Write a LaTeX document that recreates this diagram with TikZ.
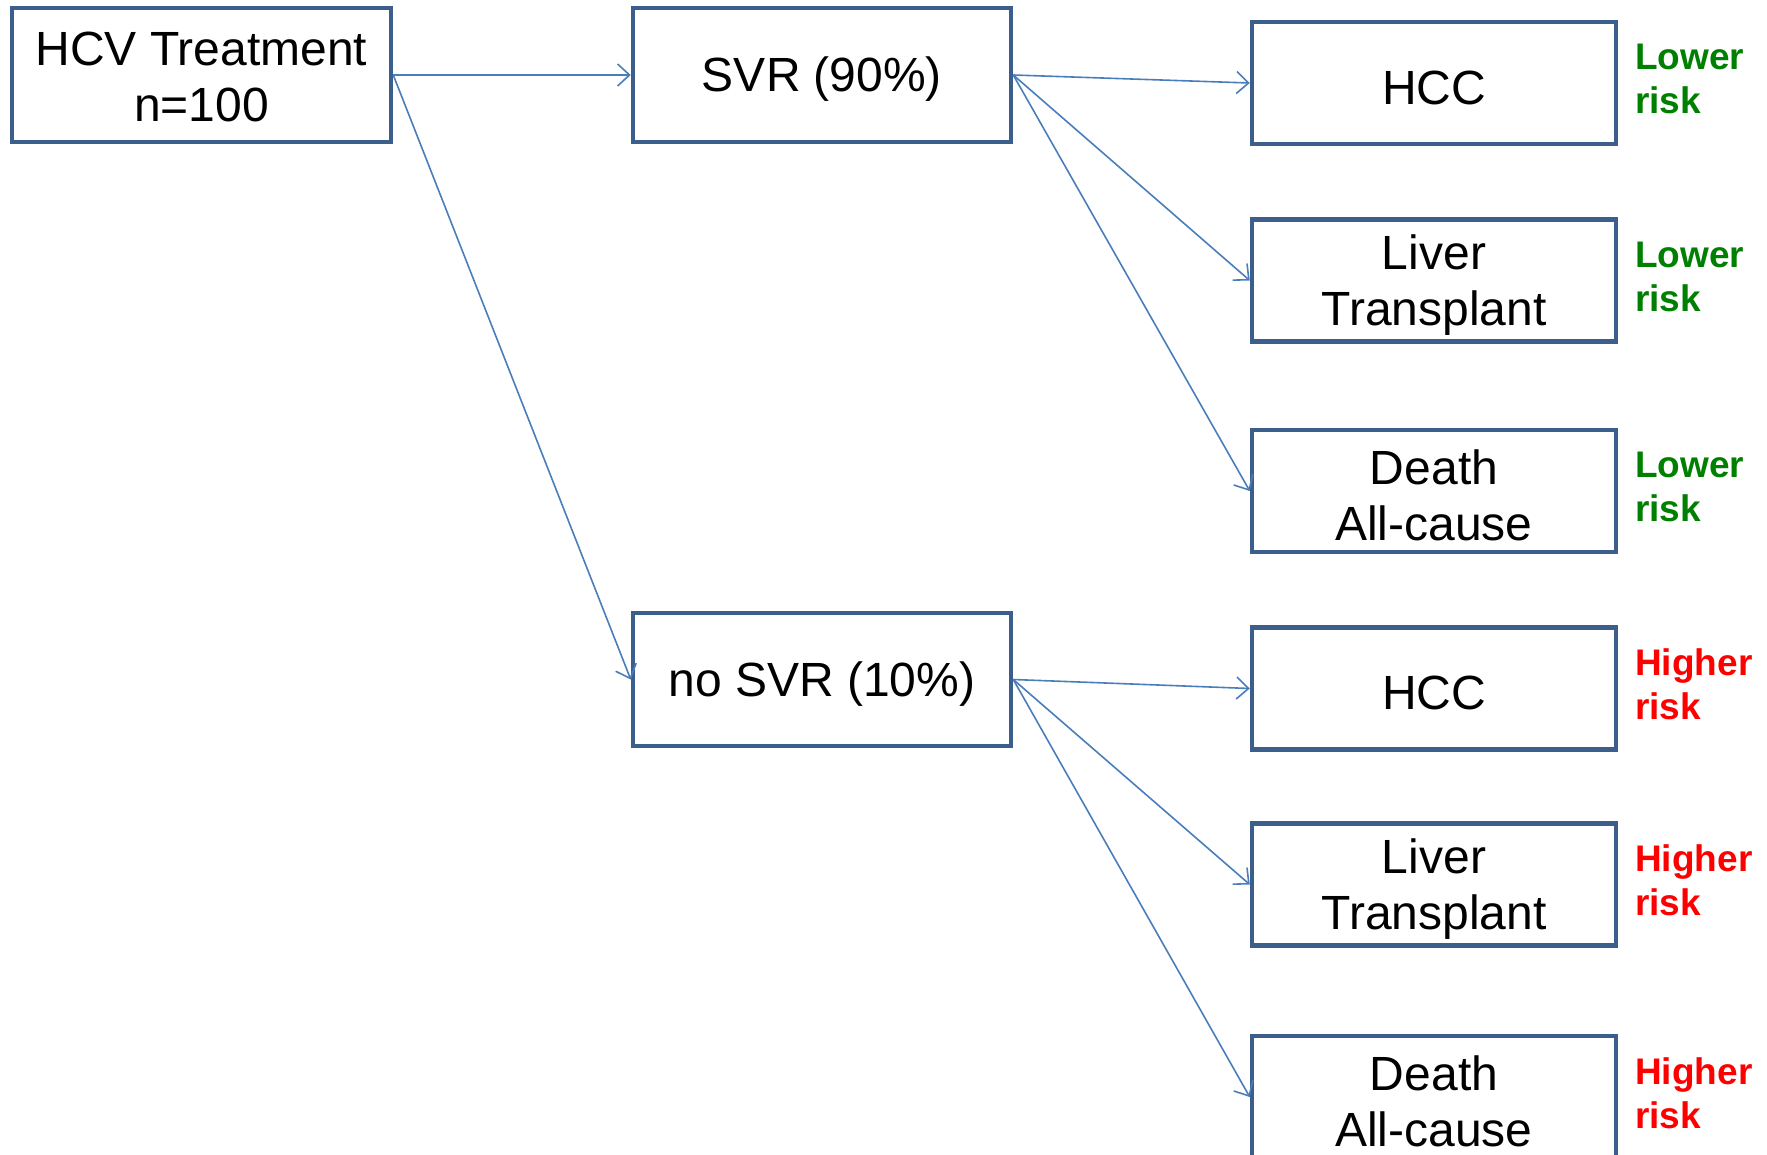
\documentclass[tikz,border=0pt]{standalone}
\usepackage{fontspec}
\setmainfont{Liberation Sans}
\usetikzlibrary{arrows.meta}
\definecolor{boxblue}{RGB}{59,94,140}
\definecolor{arrblue}{RGB}{74,126,187}
\definecolor{lowgreen}{RGB}{0,128,0}
\definecolor{highred}{RGB}{255,0,0}
\newcommand{\liftline}{\rule{0pt}{43pt}}
\begin{document}
\begin{tikzpicture}[x=1pt,y=-1pt,
  box/.style={draw=boxblue,line width=4.5pt,fill=white,align=center,inner sep=0pt,
    font=\fontsize{48}{56}\selectfont},
  midbox/.style={box,minimum width=378pt,minimum height=134pt},
  outbox/.style={box,minimum width=364pt,minimum height=122pt},
  conn/.style={draw=arrblue,line width=1.6pt,-{Straight Barb[length=12pt,width=22pt,line width=1.6pt]}},
  risk/.style={anchor=west,align=left,inner sep=0pt,font=\fontsize{37}{44}\selectfont\bfseries}
]
\useasboundingbox (0,0) rectangle (1767,1155);
\clip (0,0) rectangle (1767,1155);
\node[midbox,minimum width=379pt] (hcv) at (201.5,75) {\rule{0pt}{38pt}HCV Treatment\\n=100};
\node[midbox] (svr) at (822,75) {\liftline SVR (90\%)};
\node[midbox,minimum height=133pt] (nosvr) at (822,679.5) {\liftline no SVR (10\%)};
\node[outbox] (hcc1) at (1434,83) {\liftline HCC};
\node[outbox] (lt1) at (1434,280.5) {\liftline Liver\\Transplant};
\node[outbox] (d1) at (1434,491) {\liftline Death\\All-cause};
\node[outbox] (hcc2) at (1434,688.5) {\liftline HCC};
\node[outbox] (lt2) at (1434,884.5) {\liftline Liver\\Transplant};
\node[outbox] (d2) at (1434,1097) {\liftline Death\\All-cause};
\node[risk,text=lowgreen] (r1) at (1635,79) {Lower\\risk};
\node[risk,text=lowgreen] (r2) at (1635,276.5) {Lower\\risk};
\node[risk,text=lowgreen] (r3) at (1635,487) {Lower\\risk};
\node[risk,text=highred] (r4) at (1635,684.5) {Higher\\risk};
\node[risk,text=highred] (r5) at (1635,880.5) {Higher\\risk};
\node[risk,text=highred] (r6) at (1635,1093) {Higher\\risk};
\draw[conn] (hcv.east) -- (svr.west);
\draw[conn] (hcv.east) -- (nosvr.west);
\draw[conn] (svr.east) -- (hcc1.west);
\draw[conn] (svr.east) -- (lt1.west);
\draw[conn] (svr.east) -- (d1.west);
\draw[conn] (nosvr.east) -- (hcc2.west);
\draw[conn] (nosvr.east) -- (lt2.west);
\draw[conn] (nosvr.east) -- (d2.west);
\end{tikzpicture}
\end{document}
